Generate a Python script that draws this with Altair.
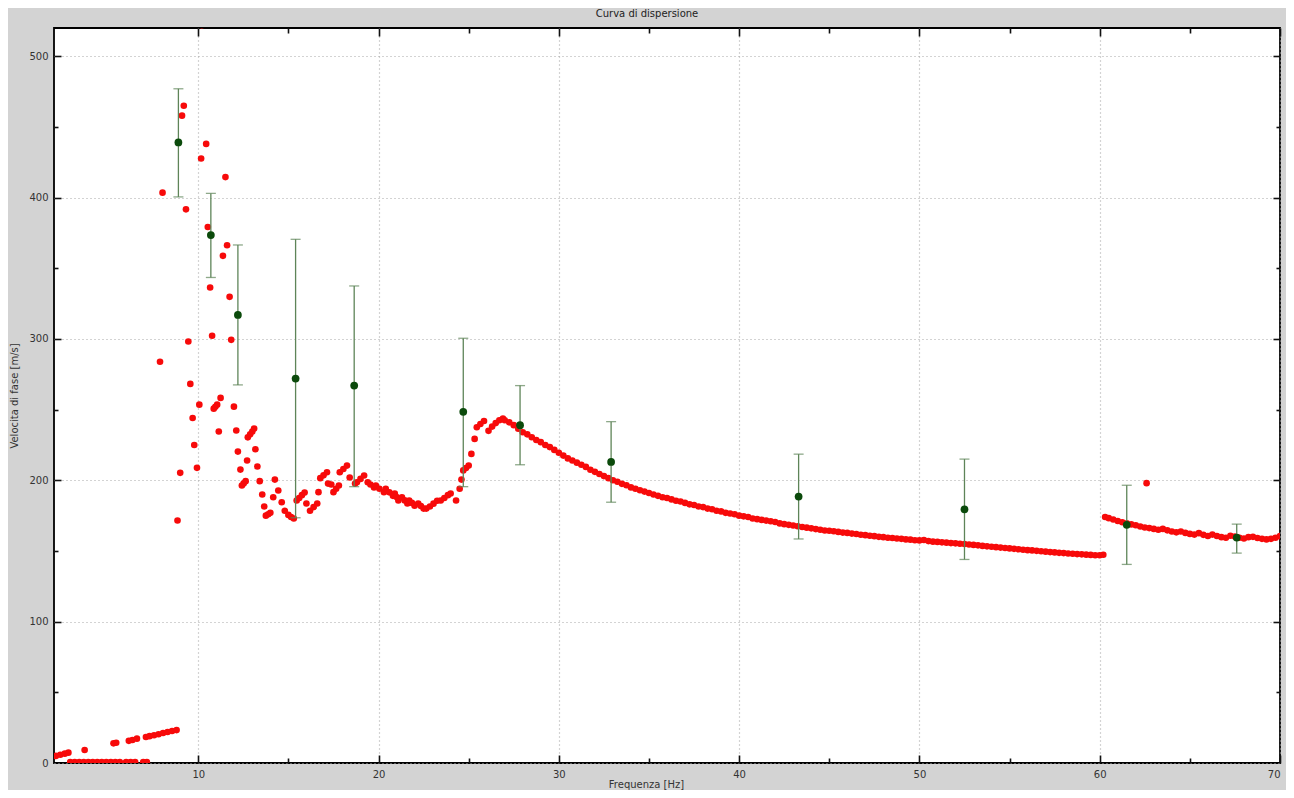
import altair as alt
import pandas as pd

# ---------------- data ----------------
# rising low-velocity branch
low_f = [2.1, 2.35, 2.6, 2.8, 3.7, 5.3, 5.45, 6.15, 6.35, 6.6, 7.1, 7.3, 7.55, 7.8,
         8.05, 8.3, 8.55, 8.8]
low_v = [5.0, 5.8, 6.6, 7.3, 9.2, 13.9, 14.3, 15.7, 16.3, 17.2, 18.4, 19.0, 19.6, 20.3,
         21.2, 21.9, 22.6, 23.3]

# points lying on the zero line
zero_f = [2.9, 3.15, 3.4, 3.65, 3.9, 4.15, 4.4, 4.65, 4.9, 5.15, 5.4, 5.65, 6.0, 6.25,
          6.5, 6.95, 7.15]
zero_v = [0.6] * 17

# scattered picks, 7.5 - 27 Hz
scatter_f = [7.88, 8.02, 8.85, 9.0, 9.1, 9.2, 9.32, 9.45, 9.56, 9.69, 9.78, 9.93, 10.06,
             10.16, 10.2, 10.44, 10.53, 10.66, 10.77, 10.86, 10.95, 11.05, 11.14, 11.24,
             11.37, 11.51, 11.6, 11.74, 11.83, 11.98, 12.11, 12.2, 12.34, 12.42, 12.52,
             12.63, 12.71, 12.75, 12.88, 13.0, 13.1, 13.17, 13.28, 13.41, 13.55, 13.66,
             13.75, 13.88, 14.0, 14.16, 14.25, 14.44, 14.63, 14.8, 15.0, 15.15, 15.3,
             15.46, 15.6, 15.75, 15.9, 16.0, 16.2, 16.4, 16.6, 16.67, 16.77, 16.95, 17.14,
             17.2, 17.38, 17.5, 17.65, 17.8, 17.85, 18.05, 18.25, 18.4, 18.7, 18.8, 19.0,
             19.2, 19.4, 19.55, 19.75, 19.85, 20.05, 20.3, 20.4, 20.6, 20.8, 20.9, 21.0,
             21.1, 21.3, 21.45, 21.6, 21.7, 21.85, 22.0, 22.2, 22.35, 22.5, 22.65, 22.85,
             23.05, 23.25, 23.45, 23.65, 23.85, 24.0, 24.3, 24.5, 24.6, 24.7, 24.85, 25.0,
             25.15, 25.33, 25.45, 25.65, 25.85, 26.1, 26.3, 26.5, 26.7, 26.9]
scatter_v = [283.9, 403.5, 171.6, 205.3, 458.0, 465.0, 391.7, 298.2, 268.2, 244.1, 225.0,
             208.8, 253.5, 427.7, 522.0, 438.0, 379.2, 336.4, 302.3, 250.7, 252.0, 253.5,
             234.5, 258.3, 358.8, 414.5, 366.3, 329.8, 299.4, 252.1, 235.2, 220.3, 207.6,
             196.3, 197.8, 199.4, 214.0, 230.4, 232.5, 234.5, 236.6, 222.0, 209.8, 199.4,
             190.0, 181.5, 175.0, 176.0, 177.0, 188.0, 200.5, 192.8, 184.5, 178.5, 175.5,
             174.0, 173.0, 185.7, 187.5, 189.5, 191.4, 183.6, 178.5, 181.0, 183.6, 191.6,
             201.5, 203.5, 205.7, 197.7, 197.0, 191.6, 194.0, 196.3, 205.7, 208.0, 210.4,
             202.0, 197.7, 198.6, 201.0, 203.4, 198.6, 197.0, 195.0, 196.3, 194.0, 191.6,
             194.0, 191.5, 189.0, 190.7, 188.2, 185.7, 188.0, 185.8, 183.6, 185.7, 184.0,
             182.0, 183.6, 181.8, 180.0, 180.0, 181.5, 183.5, 185.5, 185.7, 187.5, 189.5,
             190.7, 185.7, 194.0, 200.5, 207.0, 208.7, 210.4, 218.7, 229.3, 237.5, 239.8,
             242.0, 235.0, 238.0, 240.5, 242.5, 243.6]

# main descending branch, 27 - 60 Hz
curve_f = [27.0, 27.25, 27.5, 27.75, 28.0, 28.25, 28.5, 28.75, 29.0, 29.25, 29.5, 29.75,
           30.0, 30.25, 30.5, 30.75, 31.0, 31.25, 31.5, 31.75, 32.0, 32.25, 32.5, 32.75,
           33.0, 33.25, 33.5, 33.75, 34.0, 34.25, 34.5, 34.75, 35.0, 35.25, 35.5, 35.75,
           36.0, 36.25, 36.5, 36.75, 37.0, 37.25, 37.5, 37.75, 38.0, 38.25, 38.5, 38.75,
           39.0, 39.25, 39.5, 39.75, 40.0, 40.25, 40.5, 40.75, 41.0, 41.25, 41.5, 41.75,
           42.0, 42.25, 42.5, 42.75, 43.0, 43.25, 43.5, 43.75, 44.0, 44.25, 44.5, 44.75,
           45.0, 45.25, 45.5, 45.75, 46.0, 46.25, 46.5, 46.75, 47.0, 47.25, 47.5, 47.75,
           48.0, 48.25, 48.5, 48.75, 49.0, 49.25, 49.5, 49.75, 50.0, 50.25, 50.5, 50.75,
           51.0, 51.25, 51.5, 51.75, 52.0, 52.25, 52.5, 52.75, 53.0, 53.25, 53.5, 53.75,
           54.0, 54.25, 54.5, 54.75, 55.0, 55.25, 55.5, 55.75, 56.0, 56.25, 56.5, 56.75,
           57.0, 57.25, 57.5, 57.75, 58.0, 58.25, 58.5, 58.75, 59.0, 59.25, 59.5, 59.75,
           60.0, 60.2]
curve_v = [242.5, 241.0, 239.0, 236.5, 234.0, 232.5, 230.5, 228.5, 227.0, 225.0, 223.5,
           221.5, 219.5, 217.5, 215.5, 214.0, 212.5, 211.0, 209.5, 207.5, 206.0, 204.5,
           203.0, 201.5, 200.0, 199.0, 197.5, 196.5, 195.0, 194.0, 193.0, 192.0, 191.0,
           190.0, 189.0, 188.0, 187.5, 186.5, 185.5, 185.0, 184.0, 183.0, 182.5, 181.5,
           181.0, 180.0, 179.5, 178.5, 178.0, 177.0, 176.5, 176.0, 175.0, 174.5, 174.0,
           173.0, 172.5, 172.0, 171.5, 171.0, 170.5, 169.5, 169.0, 168.5, 168.0, 167.5,
           167.0, 166.5, 166.0, 165.5, 165.0, 164.5, 164.3, 164.0, 163.5, 163.0, 162.8,
           162.3, 162.0, 161.5, 161.2, 160.8, 160.5, 160.0, 159.8, 159.4, 159.2, 158.8,
           158.6, 158.2, 158.0, 157.6, 157.5, 157.8, 157.0, 156.6, 156.4, 156.1, 155.9,
           155.6, 155.4, 155.1, 154.9, 154.6, 154.3, 154.0, 153.6, 153.3, 153.0, 152.7,
           152.4, 152.1, 151.8, 151.5, 151.2, 150.9, 150.6, 150.4, 150.1, 149.8, 149.5,
           149.2, 149.0, 148.7, 148.5, 148.2, 148.0, 147.8, 147.6, 147.4, 147.2, 147.0,
           147.0, 147.3]

# high-frequency branch, 60 - 70 Hz (plus one isolated pick)
high_f = [60.3, 60.5, 60.75, 61.0, 61.25, 61.5, 61.75, 62.0, 62.25, 62.5, 62.75, 63.0,
          63.25, 63.5, 63.75, 64.0, 64.25, 64.5, 64.75, 65.0, 65.25, 65.5, 65.75, 66.0,
          66.25, 66.5, 66.75, 67.0, 67.25, 67.5, 67.75, 68.0, 68.25, 68.5, 68.75, 69.0,
          69.25, 69.5, 69.75, 70.0, 62.6]
high_v = [174.0, 173.2, 172.3, 171.2, 170.3, 169.5, 168.8, 168.2, 167.3, 166.6, 166.2,
          165.6, 165.0, 165.6, 164.6, 163.8, 163.2, 163.8, 162.8, 162.1, 161.6, 162.6,
          161.4, 160.6, 161.6, 160.6, 159.8, 159.4, 160.8, 160.2, 159.4, 158.8, 159.8,
          160.0, 159.2, 158.6, 158.2, 158.6, 159.4, 160.5, 198.0]

# mean dispersion curve with error bars
mean_f = [8.9, 10.7, 12.2, 15.4, 18.65, 24.7, 27.85, 32.9, 43.3, 52.5, 61.5, 67.6]
mean_v = [439.0, 373.5, 317.0, 272.0, 267.0, 248.5, 239.0, 213.0, 188.5, 179.5, 168.5, 159.5]
mean_hi = [477.0, 403.0, 366.5, 370.5, 337.5, 300.5, 267.0, 241.5, 218.5, 215.0, 196.5, 169.0]
mean_lo = [400.5, 343.5, 267.5, 173.5, 195.5, 195.5, 211.0, 184.5, 158.5, 144.0, 140.5, 148.5]

x_ticks = [10, 15, 20, 25, 30, 35, 40, 45, 50, 55, 60, 65, 70]
x_labels = [10, 20, 30, 40, 50, 60, 70]
y_ticks = [50, 100, 150, 200, 250, 300, 350, 400, 450, 500]
y_labels = [0, 100, 200, 300, 400, 500]

# ---------------- tables ----------------
red = pd.DataFrame({
    "f": low_f + zero_f + scatter_f + curve_f + high_f,
    "v": low_v + zero_v + scatter_v + curve_v + high_v,
})
mean = pd.DataFrame({"f": mean_f, "v": mean_v, "hi": mean_hi, "lo": mean_lo})

W, H = 1226, 735
FONT = "DejaVu Sans"
FS = 10

xscale = alt.Scale(domain=[2, 70], nice=False, zero=False)
yscale = alt.Scale(domain=[0, 520], nice=False, zero=False)

major_minor_x = {"condition": {"test": "datum.value % 10 === 0", "value": 8}, "value": 5}
major_minor_y = {"condition": {"test": "datum.value % 100 === 0", "value": 7}, "value": 4}

# main labelled axes
ax_x_main = alt.Axis(values=x_labels, grid=True, ticks=False, domain=False,
                     labelPadding=6, labelFontSize=FS, labelFont=FONT, labelColor="#333333",
                     gridColor="#a8a8a8", gridDash=[1, 3], gridWidth=1.2,
                     title="Frequenza [Hz]", titleFont=FONT, titleFontSize=FS,
                     titleFontWeight="normal", titleColor="#333333",
                     titleX=592, titleY=21, titleBaseline="middle")
ax_y_main = alt.Axis(values=y_labels, grid=True, ticks=False, domain=False,
                     labelPadding=6, labelFontSize=FS, labelFont=FONT, labelColor="#333333",
                     gridColor="#a8a8a8", gridDash=[1, 3], gridWidth=1.2,
                     title="Velocita di fase  [m/s]", titleFont=FONT, titleFontSize=FS,
                     titleFontWeight="normal", titleColor="#333333", titlePadding=9)

# inward tick axes
def tick_axis(orient, offset, values, size):
    return alt.Axis(orient=orient, offset=offset, values=values, labels=False,
                    domain=False, grid=False, ticks=True, tickSize=size,
                    tickColor="#111111", tickWidth=1.6, title=None)

red_layer = alt.Chart(red).mark_circle(color="#f70a0a", size=44, opacity=1, clip=True).encode(
    x=alt.X("f:Q", scale=xscale, axis=ax_x_main),
    y=alt.Y("v:Q", scale=yscale, axis=ax_y_main),
)

bar_layer = alt.Chart(mean).mark_rule(color="#5e8458", strokeWidth=1.3).encode(
    x=alt.X("f:Q", scale=xscale, axis=tick_axis("top", -H, x_ticks, major_minor_x)),
    y=alt.Y("lo:Q", scale=yscale, axis=tick_axis("right", -W, y_ticks, major_minor_y)),
    y2="hi:Q",
)

cap_lo = alt.Chart(mean).mark_tick(color="#5e8458", orient="horizontal", size=10,
                                   thickness=1.3).encode(
    x=alt.X("f:Q", scale=xscale, axis=None),
    y=alt.Y("lo:Q", scale=yscale, axis=None),
)
cap_hi = alt.Chart(mean).mark_tick(color="#5e8458", orient="horizontal", size=10,
                                   thickness=1.3).encode(
    x=alt.X("f:Q", scale=xscale, axis=None),
    y=alt.Y("hi:Q", scale=yscale, axis=None),
)

green_layer = alt.Chart(mean).mark_circle(color="#0b4a0b", size=60, opacity=1).encode(
    x=alt.X("f:Q", scale=xscale, axis=tick_axis("bottom", -H, x_ticks, major_minor_x)),
    y=alt.Y("v:Q", scale=yscale, axis=tick_axis("left", -W, y_ticks, major_minor_y)),
)

chart = alt.layer(red_layer, bar_layer, cap_lo, cap_hi, green_layer).resolve_axis(
    x="independent", y="independent"
).properties(
    width=W,
    height=H,
    title=alt.TitleParams("Curva di dispersione", font=FONT, fontSize=FS,
                          fontWeight="normal", color="#222222", anchor="middle",
                          dx=-20, offset=8),
    autosize=alt.AutoSizeParams(type="none"),
    padding={"left": 46, "top": 20, "right": 6, "bottom": 27},
    background="#d3d3d3",
).configure_view(
    fill="#ffffff", stroke="#000000", strokeWidth=1.8
)

chart.save("out.html", embed_options={"renderer": "svg", "actions": False})
